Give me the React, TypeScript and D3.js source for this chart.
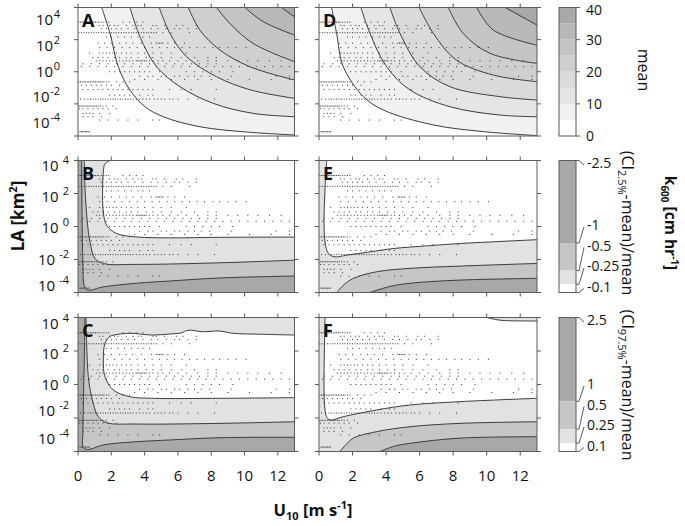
import { useEffect, useRef } from "react"
import * as d3 from "d3"

type Pt = [number, number] // [U10 m/s, log10 LA km2]

const uRange = [0, 13]
const laRange = [-5, 5]
const uTicks = [0, 2, 4, 6, 8, 10, 12]
const laTicks = [5, 2.5, 0, -2.5, -5]
const laLabelExp = ["4", "2", "0", "-2", "-4"]
// where the y labels sit on each row (log10 LA units)
const laLabelPos = [
  [4, 2, 0, -2, -4],
  [4.6, 2.25, -0.1, -2.5, -4.5],
  [4.5, 2.3, 0, -2, -4.1],
]

const meanLevels = [0, 5, 10, 15, 20, 25, 30, 35, 40]
const meanTicks = [0, 10, 20, 30, 40]
const meanGrays = ["#ffffff", "#f1f1f1", "#e5e5e5", "#dadada", "#cfcfcf", "#c4c4c4", "#b8b8b8", "#a9a9a9"]
const lowLevels = [-2.5, -1, -0.5, -0.25, -0.1]
const highLevels = [2.5, 1, 0.5, 0.25, 0.1]
const ciGrays = ["#a8a8a8", "#c6c6c6", "#e2e2e2", "#ffffff"]

// mean k600 contours, levels 5..35
const contA: Pt[][] = [
  [[1.42, 5], [1.92, 3.0], [2.42, 0.38], [3.12, -1.43], [4.02, -2.72], [5.12, -3.5], [7.32, -4.28], [10.3, -4.71], [13, -4.92]],
  [[3.12, 5], [3.72, 2.72], [4.72, 0.39], [6.12, -1.16], [8.12, -2.46], [10.52, -3.24], [13, -3.5]],
  [[4.88, 5], [5.52, 2.98], [6.52, 1.17], [8.32, -0.39], [10.32, -1.4], [13, -2.07]],
  [[6.62, 5], [7.32, 3.24], [8.52, 1.69], [10.32, 0.39], [13, -0.64]],
  [[8.32, 5], [9.12, 3.76], [10.52, 2.2], [13, 0.78]],
  [[10.02, 5], [11.12, 3.9], [13, 2.85]],
  [[12.22, 5], [13, 4.27]],
]
const contD: Pt[][] = [
  [[0.75, 5], [1.05, 2.98], [1.45, 0.39], [2.65, -1.94], [3.84, -2.98], [6.82, -4.14], [9.8, -4.66], [13, -4.97]],
  [[2.5, 5], [3.04, 2.98], [4.03, 0.39], [5.43, -1.42], [7.81, -2.72], [10.8, -3.37], [13, -3.5]],
  [[4.23, 5], [4.83, 2.98], [6.02, 0.39], [7.81, -1.16], [10.8, -1.94], [13, -2.2]],
  [[5.98, 5], [6.82, 2.98], [8.2, 0.9], [10.4, -0.26], [13, -0.77]],
  [[7.71, 5], [8.6, 2.98], [10.2, 1.43], [13, 0.65]],
  [[9.4, 5], [10.4, 3.24], [13, 2.07]],
  [[11.1, 5], [13, 3.63]],
]
// (CI2.5% - mean)/mean contours: -1, -0.5, -0.25
const contB: Pt[][] = [
  [[0.22, 5], [0.25, 0], [0.3, -3], [0.38, -4.5], [0.6, -4.82], [1.5, -4.58], [3.5, -4.3], [5.5, -4.13], [8.5, -3.9], [13, -3.75]],
  [[0.38, 5], [0.42, 2.86], [0.56, 0.34], [0.72, -1.17], [1.02, -2.42], [1.52, -2.8], [3.52, -2.87], [8.5, -2.75], [13, -2.55]],
  [[1.92, 5], [1.62, 4.75], [1.52, 4.12], [1.48, 2.86], [1.52, 1.1], [1.72, 0.09], [2.32, -0.53], [3.52, -0.79], [5.52, -0.86], [8.5, -0.82], [13, -0.8]],
]
const contE: Pt[][] = [
  [[3.04, -5], [4.2, -4.55], [5.43, -4.3], [8.41, -4.06], [13, -3.93]],
  [[1.05, -5], [1.5, -4.4], [2.05, -3.93], [3.44, -3.43], [5.43, -3.17], [8.41, -3.0], [13, -2.8]],
  [[0.46, 5], [0.36, 2.86], [0.3, 0.34], [0.36, -1.17], [0.56, -2.04], [0.95, -2.3], [1.65, -2.17], [3.04, -1.92], [4.43, -1.67], [6.42, -1.47], [8.41, -1.29], [13, -1.0]],
]
// (CI97.5% - mean)/mean contours: 1, 0.5, 0.25
const contC: Pt[][] = [
  [[0.42, 5], [0.38, 2], [0.33, -1], [0.3, -3.5], [0.32, -4.7], [0.6, -4.85], [1.52, -4.51], [3.52, -4.27], [5.52, -4.14], [8.52, -3.97], [13, -3.94]],
  [[0.48, 5], [0.52, 3.07], [0.62, 0.58], [0.82, -0.91], [1.22, -2.4], [1.72, -2.85], [3.52, -2.95], [8.52, -2.9], [13, -2.78]],
  [[13, 3.69], [11, 3.75], [9.3, 3.82], [8.5, 3.99], [7.5, 3.94], [6.6, 4.05], [6.2, 3.85], [5.5, 3.77], [4.5, 3.69], [3.1, 3.82], [2.2, 3.7], [1.9, 3.57], [1.62, 3.07], [1.52, 1.83], [1.62, 0.58], [2.12, -0.41], [3.12, -0.91], [4.52, -1.03], [8.52, -1.03], [13, -0.98]],
]
const contF: Pt[][] = [
  [[3.64, -5], [4.5, -4.6], [5.43, -4.39], [8.41, -4.0], [13, -3.9]],
  [[1.25, -5], [1.6, -4.5], [2.05, -4.0], [3.44, -3.52], [5.43, -3.15], [8.41, -2.9], [13, -2.78]],
  [[0.36, 5], [0.32, 2.5], [0.3, 0], [0.33, -1.5], [0.45, -2.4], [0.66, -2.65], [1.45, -2.4], [3.44, -1.9], [5.43, -1.53], [8.41, -1.28], [13, -1.03]],
  [[10, 5], [10.8, 4.8], [13, 4.74]],
]

// lakes: rows of [log10 LA, U10 values]
const dotRows: [number, number[]][] = [
  [3.86, [0.05, 0.15, 0.25, 0.35, 0.45, 0.55, 0.65, 0.75, 0.85, 0.95, 1.05, 1.15, 1.25, 1.4, 1.55, 1.7, 1.85, 2.7, 3.1, 3.5, 3.9]],
  [3.6, [1.3, 1.5, 1.9, 2.2, 2.4, 2.9, 3.3, 3.6, 3.8, 4.5, 4.7, 5.2, 5.9, 6.3, 7.1]],
  [3.35, [1.4, 1.7, 2.0, 2.3, 2.6, 3.0, 3.4, 3.9, 4.4, 4.8, 5.3, 5.8, 6.1, 6.6, 7.1]],
  [3.04, [0.05, 0.2, 0.35, 0.5, 0.65, 0.8, 0.95, 1.1, 1.25, 1.4, 1.55, 1.7, 1.85, 2.0, 2.15, 2.3, 2.45, 2.6, 2.75, 2.9, 3.05, 3.2, 3.35, 3.5, 3.65, 3.8, 3.95, 4.1, 4.25, 4.4, 4.55, 4.7, 5.1, 5.6, 6.7]],
  [2.7, [1.7, 2.0, 2.4, 2.8, 3.2, 3.6, 3.9, 4.3]],
  [2.23, [1.2, 1.6, 2.0, 2.5, 2.9, 3.3, 3.8, 4.4, 4.7, 4.8, 4.9, 5.0, 5.1, 5.4, 5.8, 6.4]],
  [1.88, [1.3, 1.75, 2.2, 2.65, 3.1, 3.55, 4.0, 4.45, 4.9, 5.35, 5.8, 6.25, 6.7, 7.15, 7.6, 8.1, 8.5, 9.0, 9.5, 10.1]],
  [1.45, [0.7, 1.3, 1.5, 1.7, 1.9, 2.1, 2.3, 2.6, 2.9, 3.2, 3.6, 4.0, 4.5, 5.0, 5.6, 6.5]],
  [1.1, [0.9, 1.2, 1.5, 1.8, 2.2, 2.5, 2.9, 3.2, 3.6, 4.1, 4.5, 5.0, 5.6, 6.2, 7.0, 7.8, 8.3]],
  [0.85, [1.1, 1.3, 1.5, 1.7, 1.9, 2.1, 2.3, 2.5, 2.7, 2.9, 3.1, 3.3, 3.5, 3.6, 3.7, 3.8, 3.9, 4.0, 4.1, 4.3, 4.5, 4.8, 5.1, 5.5, 6.0, 6.5, 7.2, 7.8, 8.3, 9.0, 9.6, 10.2, 10.8, 11.5, 12.2]],
  [0.62, [0.3, 0.8, 1.3, 1.8, 2.3, 2.8, 3.3, 3.8, 4.3, 4.8, 5.3, 5.8, 6.3, 6.8, 7.3, 7.8, 8.3]],
  [0.4, [0.2, 0.7, 1.2, 1.7, 2.2, 2.7, 3.2, 3.7, 4.2, 4.7, 5.2, 5.7, 6.2, 6.7, 7.2, 7.7, 8.2, 8.7, 9.2, 9.7, 10.2, 10.7, 11.2, 11.7, 12.2, 12.7]],
  [0.0, [1.9, 2.2, 2.5, 2.8, 3.1, 3.4, 3.7, 4.0, 4.3, 4.9, 6.5, 7.0, 7.5, 8.0, 8.5, 9.3]],
  [-0.35, [3.7, 4.2, 4.5, 5.0, 5.3, 5.8, 6.1, 6.6, 7.0, 7.4, 7.9, 9.2, 11.9, 12.7]],
  [-0.6, [3.4, 4.0, 4.8, 5.6, 6.4, 7.2, 8.0, 9.0, 10.3, 11.6, 12.7]],
  [-0.79, [0.05, 0.15, 0.25, 0.35, 0.45, 0.55, 0.65, 0.75, 0.85, 0.95, 1.05, 1.15, 1.25, 1.35, 1.45, 1.55, 1.7, 1.85, 2.3, 2.7, 3.1]],
  [-1.05, [0.2, 0.5, 0.8, 1.1, 1.4, 1.7, 2.0, 2.5]],
  [-1.38, [0.3, 0.6, 0.9, 1.2, 1.5, 1.8, 2.1, 2.4, 2.7, 3.0, 3.3, 3.6, 3.9, 4.2, 4.5, 5.5, 6.2, 6.8, 8.3]],
  [-1.82, [1.9, 2.2, 2.5, 2.8, 3.1, 3.7, 4.2, 4.5]],
  [-2.13, [0.15, 0.4, 0.6, 0.75, 0.9, 1.05, 1.2, 1.35, 1.5, 1.65, 1.8, 1.95, 2.1, 2.25, 2.4, 2.55, 2.7, 2.85, 3.0, 3.15, 3.3, 3.5, 3.7, 3.9, 4.1, 4.3, 4.6, 4.8, 5.0, 5.2, 5.5, 5.7, 6.0, 6.6, 7.2, 8.2]],
  [-2.67, [0.0, 0.1, 0.2, 0.3, 0.4, 0.5, 0.6, 0.7, 0.8, 0.9, 1.0, 1.1, 1.2, 1.35, 1.5, 1.7, 2.1]],
  [-2.88, [0.1, 0.3, 0.6, 0.9, 1.2, 1.5, 1.8, 2.3]],
  [-3.24, [0.3, 0.5, 0.7, 0.9, 1.3, 1.9]],
  [-3.5, [0.3, 0.6, 0.9, 1.4]],
  [-3.76, [1.3, 1.8, 2.4, 3.0, 3.6, 4.5, 4.9]],
  [-4.67, [0.12, 0.2, 0.28, 0.36, 0.44, 0.52, 0.6, 0.68]],
]

const FONT = "'Open Sans', sans-serif"
const INK = "#111"
const FRAME = "#5a5a5a"

type Fill = { color: string; curves: Pt[][]; corners: Pt[] }
type Panel = { key: string; row: number; col: number; base: string; fills: Fill[]; lines: Pt[][] }

const TR: Pt = [13, 5]
const aroundLeft: Pt[] = [[13, 5], [0, 5], [0, -5]]

const panels: Panel[] = [
  { key: "A", row: 0, col: 0, base: meanGrays[0], lines: contA, fills: contA.map((c, i) => ({ color: meanGrays[i + 1], curves: [c], corners: [TR] })) },
  { key: "D", row: 0, col: 1, base: meanGrays[0], lines: contD, fills: contD.map((c, i) => ({ color: meanGrays[i + 1], curves: [c], corners: [TR] })) },
  { key: "B", row: 1, col: 0, base: ciGrays[0], lines: contB, fills: contB.map((c, i) => ({ color: ciGrays[i + 1], curves: [c], corners: [TR] })) },
  {
    key: "E", row: 1, col: 1, base: ciGrays[0], lines: contE,
    fills: [
      { color: ciGrays[1], curves: [contE[0]], corners: aroundLeft },
      { color: ciGrays[2], curves: [contE[1]], corners: aroundLeft },
      { color: ciGrays[3], curves: [contE[2]], corners: [TR] },
    ],
  },
  {
    key: "C", row: 2, col: 0, base: ciGrays[0], lines: contC,
    fills: [
      { color: ciGrays[1], curves: [contC[0]], corners: [TR] },
      { color: ciGrays[2], curves: [contC[1]], corners: [TR] },
      { color: ciGrays[3], curves: [contC[2]], corners: [] },
    ],
  },
  {
    key: "F", row: 2, col: 1, base: ciGrays[0], lines: contF,
    fills: [
      { color: ciGrays[1], curves: [contF[0]], corners: aroundLeft },
      { color: ciGrays[2], curves: [contF[1]], corners: aroundLeft },
      { color: ciGrays[3], curves: [contF[2], [...contF[3]].reverse()], corners: [] },
    ],
  },
]

const cols = [[78, 294.5], [319, 537]]
const rows = [[7.5, 136], [160.5, 292.5], [317.5, 451.5]]
const barX = [559, 576]

export default function App() {
  const svgRef = useRef<SVGSVGElement>(null)

  useEffect(() => {
    document.body.style.margin = "0"
    const svg = d3.select(svgRef.current)
    svg.selectAll("*").remove()

    panels.forEach((p) => {
      const [x0, x1] = cols[p.col]
      const [y0, y1] = rows[p.row]
      const x = d3.scaleLinear(uRange, [x0, x1])
      const y = d3.scaleLinear(laRange, [y1, y0])
      const smooth = d3.line<Pt>().x((d) => x(d[0])).y((d) => y(d[1])).curve(d3.curveCatmullRom.alpha(0.5))

      const ring = (f: Fill) => {
        let s = ""
        f.curves.forEach((c, i) => {
          const seg = smooth(c) || ""
          s += i === 0 ? seg : "L" + seg.slice(1)
        })
        f.corners.forEach((c) => (s += `L${x(c[0])},${y(c[1])}`))
        return s + "Z"
      }

      const clipId = `clip-${p.key}`
      svg.append("clipPath").attr("id", clipId).append("rect").attr("x", x0).attr("y", y0).attr("width", x1 - x0).attr("height", y1 - y0)
      const g = svg.append("g")
      const inner = g.append("g").attr("clip-path", `url(#${clipId})`)
      inner.append("rect").attr("x", x0).attr("y", y0).attr("width", x1 - x0).attr("height", y1 - y0).attr("fill", p.base)
      p.fills.forEach((f) => inner.append("path").attr("d", ring(f)).attr("fill", f.color))

      dotRows.forEach(([la, us]) =>
        us.forEach((u) =>
          inner.append("rect").attr("x", x(u) - 0.5).attr("y", y(la) - 0.5).attr("width", 1).attr("height", 1).attr("fill", "#333")
        )
      )

      p.lines.forEach((l) => inner.append("path").attr("d", smooth(l)).attr("fill", "none").attr("stroke", "#3c3c3c").attr("stroke-width", 1))

      // frame and ticks
      g.append("rect").attr("x", x0).attr("y", y0).attr("width", x1 - x0).attr("height", y1 - y0).attr("fill", "none").attr("stroke", FRAME)
      const tick = (x1_: number, y1_: number, x2_: number, y2_: number) =>
        g.append("line").attr("x1", x1_).attr("y1", y1_).attr("x2", x2_).attr("y2", y2_).attr("stroke", FRAME)
      uTicks.forEach((u) => {
        tick(x(u), y0, x(u), y0 - 4)
        tick(x(u), y1, x(u), y1 + 4)
      })
      laTicks.forEach((l) => {
        tick(x0, y(l), x0 - 4, y(l))
        tick(x1, y(l), x1 + 4, y(l))
      })

      g.append("text").attr("x", x0 + 4).attr("y", y0 + 19.5).attr("font-family", FONT).attr("font-weight", 700)
        .attr("font-size", 18).attr("fill", INK).text(p.key)

      if (p.col === 0) {
        const right = p.row === 0 ? 60 : 69
        laLabelPos[p.row].forEach((pos, i) => {
          const t = g.append("text").attr("x", right).attr("y", y(pos) + 5).attr("text-anchor", "end")
            .attr("font-family", FONT).attr("font-size", 15).attr("fill", INK)
          t.append("tspan").text("10")
          t.append("tspan").attr("dx", p.row === 0 ? 0.5 : 4).attr("dy", -7).attr("font-size", 11).text(laLabelExp[i])
        })
      }
      if (p.row === 2) {
        uTicks.forEach((u) =>
          g.append("text").attr("x", x(u)).attr("y", y1 + 29).attr("text-anchor", "middle")
            .attr("font-family", FONT).attr("font-size", 15).attr("fill", INK).text(u)
        )
      }
    })

    // colour bars
    const bar = svg.append("g")
    const [bx0, bx1] = barX
    const label = (xx: number, yy: number, s: string) =>
      bar.append("text").attr("x", xx).attr("y", Math.max(yy + 5, 15)).attr("font-family", FONT).attr("font-size", 14).attr("fill", INK).text(s)

    const my = d3.scaleLinear([0, 40], [rows[0][1], rows[0][0]])
    meanLevels.slice(0, -1).forEach((lv, i) => {
      bar.append("rect").attr("x", bx0).attr("y", my(meanLevels[i + 1])).attr("width", bx1 - bx0)
        .attr("height", my(lv) - my(meanLevels[i + 1])).attr("fill", meanGrays[i])
    })
    bar.append("rect").attr("x", bx0).attr("y", my(40)).attr("width", bx1 - bx0).attr("height", my(0) - my(40)).attr("fill", "none").attr("stroke", FRAME)
    meanTicks.forEach((t) => {
      bar.append("line").attr("x1", bx1).attr("x2", bx1 + 4).attr("y1", my(t)).attr("y2", my(t)).attr("stroke", FRAME)
      label(586, my(t), String(t))
    })

    const ciBar = (levels: number[], rowIdx: number) => {
      const [top, bottom] = rows[rowIdx]
      const cy = d3.scaleLinear([levels[0], levels[levels.length - 1]], [top, bottom])
      levels.slice(0, -1).forEach((lv, i) => {
        bar.append("rect").attr("x", bx0).attr("y", cy(lv)).attr("width", bx1 - bx0)
          .attr("height", cy(levels[i + 1]) - cy(lv)).attr("fill", ciGrays[i])
      })
      bar.append("rect").attr("x", bx0).attr("y", top).attr("width", bx1 - bx0).attr("height", bottom - top).attr("fill", "none").attr("stroke", FRAME)
      // labels pushed apart from the bottom up, with leader lines
      let prev = Infinity
      const placed = [...levels].reverse().map((lv, i) => {
        let ly = i === 0 ? bottom - 6 : Math.min(cy(lv), prev - 20.5)
        ly = Math.max(ly, top + 2.5)
        prev = ly
        return { lv, ly }
      })
      placed.forEach(({ lv, ly }) => {
        const vy = cy(lv)
        bar.append("path").attr("d", `M${bx1},${vy}H${bx1 + 3}L${bx1 + 8},${ly + 2}`).attr("fill", "none").attr("stroke", FRAME)
        label(587, ly, String(lv))
      })
    }
    ciBar(lowLevels, 1)
    ciBar(highLevels, 2)

    // titles
    const rot = (xx: number, yy: number, angle: number, size: number, weight: number) =>
      svg.append("text").attr("transform", `translate(${xx},${yy}) rotate(${angle})`).attr("text-anchor", "middle")
        .attr("font-family", FONT).attr("font-size", size).attr("font-weight", weight).attr("fill", INK)

    rot(638, 70, 90, 16, 400).text("mean")

    const lo = rot(622, 223, 90, 16, 400)
    lo.append("tspan").text("(CI")
    lo.append("tspan").attr("font-size", 11).attr("dy", 4).text("2.5%")
    lo.append("tspan").attr("dy", -4).text("-mean)/mean")

    const hi = rot(622, 385, 90, 16, 400)
    hi.append("tspan").text("(CI")
    hi.append("tspan").attr("font-size", 11).attr("dy", 4).text("97.5%")
    hi.append("tspan").attr("dy", -4).text("-mean)/mean")

    const k = rot(665, 223, 90, 15.5, 700)
    k.append("tspan").text("k")
    k.append("tspan").attr("font-size", 10).attr("dy", 4).text("600")
    k.append("tspan").attr("dy", -4).text(" [cm hr")
    k.append("tspan").attr("font-size", 10).attr("dy", -6).text("-1")
    k.append("tspan").attr("dy", 6).text("]")

    const la = rot(24, 216, -90, 17, 700)
    la.append("tspan").text("LA [km")
    la.append("tspan").attr("font-size", 11).attr("dy", -7).text("2")
    la.append("tspan").attr("dy", 7).text("]")

    const ux = rot(313, 516, 0, 16.5, 700)
    ux.append("tspan").text("U")
    ux.append("tspan").attr("font-size", 11).attr("dy", 4).text("10")
    ux.append("tspan").attr("dy", -4).text(" [m s")
    ux.append("tspan").attr("font-size", 11).attr("dy", -7).text("-1")
    ux.append("tspan").attr("dy", 7).text("]")
  }, [])

  return <svg ref={svgRef} width={685} height={526} style={{ display: "block", background: "#fff" }} />
}
